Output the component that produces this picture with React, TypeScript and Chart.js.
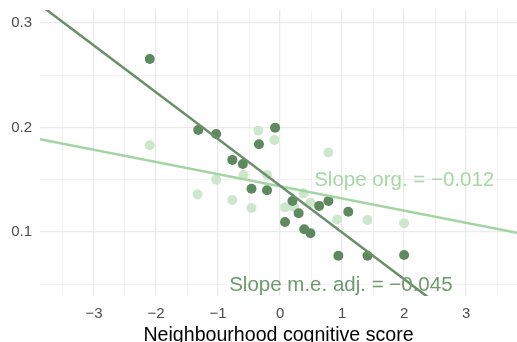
import React, { useEffect, useRef } from "react";
import { Chart, registerables } from "chart.js";

Chart.register(...registerables);

// Original (uncorrected) observations
const orgX = [-2.10, -1.33, -1.03, -0.77, -0.59, -0.46, -0.35, -0.21, -0.09, 0.08, 0.23, 0.38, 0.49, 0.78, 0.92, 1.41, 2.00];
const orgY = [0.183, 0.136, 0.150, 0.1306, 0.1545, 0.123, 0.197, 0.1545, 0.188, 0.1236, 0.1236, 0.137, 0.128, 0.176, 0.112, 0.1115, 0.1085];

// Measurement-error adjusted observations
const adjX = [-2.10, -1.32, -1.03, -0.77, -0.60, -0.46, -0.34, -0.21, -0.08, 0.08, 0.20, 0.30, 0.39, 0.49, 0.63, 0.78, 0.94, 1.10, 1.41, 2.00];
const adjY = [0.2655, 0.1976, 0.1938, 0.169, 0.165, 0.1414, 0.184, 0.140, 0.1998, 0.1096, 0.1297, 0.118, 0.1026, 0.0988, 0.125, 0.1297, 0.0773, 0.1194, 0.0773, 0.078];

// Regression fits
const orgSlope = -0.01163;
const orgIntercept = 0.1437;
const adjSlope = -0.0447;
const adjIntercept = 0.1443;

// Axis settings
const xMin = -3.87;
const xMax = 3.82;
const yMin = 0.0388;
const yMax = 0.3124;
const xTicks = [-3.5, -3, -2.5, -2, -1.5, -1, -0.5, 0, 0.5, 1, 1.5, 2, 2.5, 3, 3.5];
const xLabeled = [-3, -2, -1, 0, 1, 2, 3];
const yTicks = [0.05, 0.1, 0.15, 0.2, 0.25, 0.3];
const yLabeled = [0.1, 0.2, 0.3];

// Annotations
const annotations = [
  { text: "Slope org. = \u22120.012", x: 0.55, y: 0.1495, color: "#a6d7a6" },
  { text: "Slope m.e. adj. = \u22120.045", x: -0.82, y: 0.049, color: "#6e9a6e" },
];

const FONT = "'Liberation Sans', Arial, sans-serif";
const isLabeled = (arr: number[], v: number) => arr.some((a) => Math.abs(a - v) < 1e-6);

export default function App() {
  const ref = useRef<HTMLCanvasElement | null>(null);

  useEffect(() => {
    document.body.style.margin = "0";
    const canvas = ref.current;
    if (!canvas) return;

    const lineX = [xMin, xMax];

    const annotationPlugin = {
      id: "slopeText",
      afterDatasetsDraw(chart: any) {
        const { ctx, scales } = chart;
        ctx.save();
        ctx.font = "20.5px " + FONT;
        ctx.textAlign = "left";
        ctx.textBaseline = "middle";
        for (const a of annotations) {
          ctx.fillStyle = a.color;
          ctx.fillText(a.text, scales.x.getPixelForValue(a.x), scales.y.getPixelForValue(a.y));
        }
        ctx.restore();
      },
    };

    const gridColor = (ctx: any, labeled: number[]) =>
      ctx.tick && isLabeled(labeled, ctx.tick.value) ? "#ebebeb" : "#f2f2f2";
    const gridWidth = (ctx: any, labeled: number[]) =>
      ctx.tick && isLabeled(labeled, ctx.tick.value) ? 1.3 : 1.0;

    const chart = new Chart(canvas, {
      type: "scatter",
      data: {
        datasets: [
          {
            label: "adj line",
            data: lineX.map((x) => ({ x, y: adjIntercept + adjSlope * x })),
            showLine: true,
            borderColor: "#6b8f6b",
            borderWidth: 2.5,
            pointRadius: 0,
            order: 0,
          },
          {
            label: "org line",
            data: lineX.map((x) => ({ x, y: orgIntercept + orgSlope * x })),
            showLine: true,
            borderColor: "#a3d5a3",
            borderWidth: 2.5,
            pointRadius: 0,
            order: 0,
          },
          {
            label: "adjusted",
            data: adjX.map((x, i) => ({ x, y: adjY[i] })),
            backgroundColor: "#5e895e",
            borderWidth: 0,
            pointRadius: 5,
            order: 1,
          },
          {
            label: "original",
            data: orgX.map((x, i) => ({ x, y: orgY[i] })),
            backgroundColor: "#cde7cd",
            borderWidth: 0,
            pointRadius: 5,
            order: 2,
          },
        ],
      },
      options: {
        animation: false,
        responsive: false,
        maintainAspectRatio: false,
        layout: { autoPadding: false, padding: { top: 10, right: 0, left: 0, bottom: 0 } },
        plugins: { legend: { display: false }, tooltip: { enabled: false } },
        scales: {
          x: {
            type: "linear",
            min: xMin,
            max: xMax,
            afterBuildTicks: (scale: any) => {
              scale.ticks = xTicks.map((v) => ({ value: v }));
            },
            afterFit: (scale: any) => {
              scale.height = 46;
              scale.paddingLeft = 0;
              scale.paddingRight = 0;
            },
            border: { display: false },
            grid: {
              drawTicks: false,
              color: (ctx: any) => gridColor(ctx, xLabeled),
              lineWidth: (ctx: any) => gridWidth(ctx, xLabeled),
            },
            ticks: {
              autoSkip: false,
              maxRotation: 0,
              padding: 9,
              color: "#4d4d4d",
              font: { size: 15, family: FONT },
              callback: (v: any) => {
                const n = Number(v);
                if (!isLabeled(xLabeled, n)) return "";
                return n < 0 ? "\u2212" + Math.abs(n) : String(n);
              },
            },
            title: {
              display: true,
              text: "Neighbourhood cognitive score",
              color: "#000000",
              padding: { top: 0, bottom: -3 },
              font: { size: 19.6, family: FONT, lineHeight: 1 },
            },
          },
          y: {
            type: "linear",
            min: yMin,
            max: yMax,
            afterBuildTicks: (scale: any) => {
              scale.ticks = yTicks.map((v) => ({ value: v }));
            },
            afterFit: (scale: any) => {
              scale.width = 40;
              scale.paddingTop = 0;
              scale.paddingBottom = 0;
            },
            border: { display: false },
            grid: {
              drawTicks: false,
              color: (ctx: any) => gridColor(ctx, yLabeled),
              lineWidth: (ctx: any) => gridWidth(ctx, yLabeled),
            },
            ticks: {
              autoSkip: false,
              padding: 8,
              color: "#4d4d4d",
              font: { size: 15, family: FONT },
              callback: (v: any) => {
                const n = Number(v);
                if (!isLabeled(yLabeled, n)) return "";
                return n.toFixed(1);
              },
            },
          },
        },
      },
      plugins: [annotationPlugin],
    } as any);

    return () => chart.destroy();
  }, []);

  return (
    <div style={{ position: "absolute", left: 0, top: 0, width: 517, height: 342 }}>
      <canvas ref={ref} width={517} height={342} style={{ width: 517, height: 342, display: "block" }} />
    </div>
  );
}
